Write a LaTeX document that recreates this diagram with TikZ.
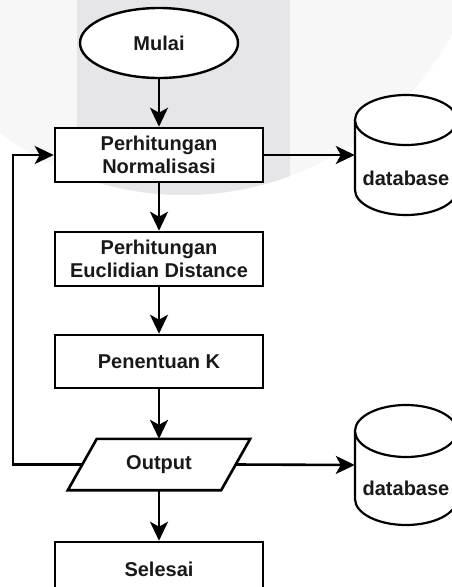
\documentclass[tikz,border=0pt]{standalone}
\usepackage{fontspec}
\setmainfont{Liberation Sans}
\usetikzlibrary{shapes.geometric,arrows.meta,calc}
\definecolor{wmlight}{HTML}{F7F7F7}
\definecolor{wmgray}{HTML}{E6E6E9}
\begin{document}
\begin{tikzpicture}[x=1pt,y=-1pt,
  txt/.style={font=\bfseries\fontsize{20}{23}\selectfont, text=black!90},
  proc/.style={txt, draw, line width=2.6pt, fill=white, minimum width=208pt, minimum height=54pt, align=center, inner sep=0pt},
  term/.style={txt, draw, ellipse, line width=2.4pt, fill=white, minimum width=158pt, minimum height=70pt, inner sep=0pt},
  lbl/.style={txt, inner sep=0pt},
  flow/.style={line width=2.6pt, -{Stealth[length=19pt,width=18pt,inset=5pt]}},
  dbline/.style={line width=2.2pt, fill=white}
]
\useasboundingbox (0,0) rectangle (452,587);
\clip (0,0) rectangle (452,587);
\fill[white] (0,0) rectangle (452,587);
% watermark
\fill[wmlight] (184,-108) circle[radius=303pt];
\begin{scope}
  \clip (184,-108) circle[radius=303pt];
  \fill[wmgray] (77,0) rectangle (290,300);
\end{scope}

% nodes
\node[term] (mulai) at (159,43) {Mulai};
\node[proc] (norm) at (159,155) {Perhitungan\\Normalisasi};
\node[proc] (eucl) at (159,259) {Perhitungan\\Euclidian Distance};
\node[proc, minimum height=53pt] (k) at (159,361.5) {Penentuan K};
\node[lbl, minimum width=153pt, minimum height=51pt] (out) at (159,464.5) {Output};
\draw[line width=2.6pt, line join=miter]
  ($(out.north west)+(14.5pt,0)$) -- ($(out.north east)+(14.5pt,0)$)
  -- ($(out.south east)+(-14.5pt,0)$) -- ($(out.south west)+(-14.5pt,0)$) -- cycle;
\coordinate (outR) at (out.east);
\coordinate (outL) at (out.west);
\node[proc] (sel) at (159,569) {Selesai};

% database cylinders
\node[minimum width=102pt, minimum height=120pt, inner sep=0pt] (db1) at (406,155) {};
\draw[dbline] (355,120) -- (355,190) arc[start angle=180, end angle=360, x radius=51pt, y radius=25pt] -- (457,120);
\draw[dbline] (406,120) ellipse[x radius=51pt, y radius=25pt];
\node[lbl] (db1t) at (406,178) {database};

\node[minimum width=102pt, minimum height=120pt, inner sep=0pt] (db2) at (406,465) {};
\draw[dbline] (355,431) -- (355,499) arc[start angle=180, end angle=360, x radius=51pt, y radius=26pt] -- (457,431);
\draw[dbline] (406,431) ellipse[x radius=51pt, y radius=26pt];
\node[lbl] (db2t) at (406,488) {database};

% connectors
\draw[flow] (mulai) -- (norm);
\draw[flow] (norm) -- (eucl);
\draw[flow] (eucl) -- (k);
\draw[flow] (k) -- (out.north);
\draw[flow] (out.south) -- (sel);
\draw[flow] (norm.east) -- (db1.west);
\draw[flow] (outR) -- (db2.west);
\draw[flow] (outL) -- ++(-69.5pt,0) |- (norm.west);
\end{tikzpicture}
\end{document}
